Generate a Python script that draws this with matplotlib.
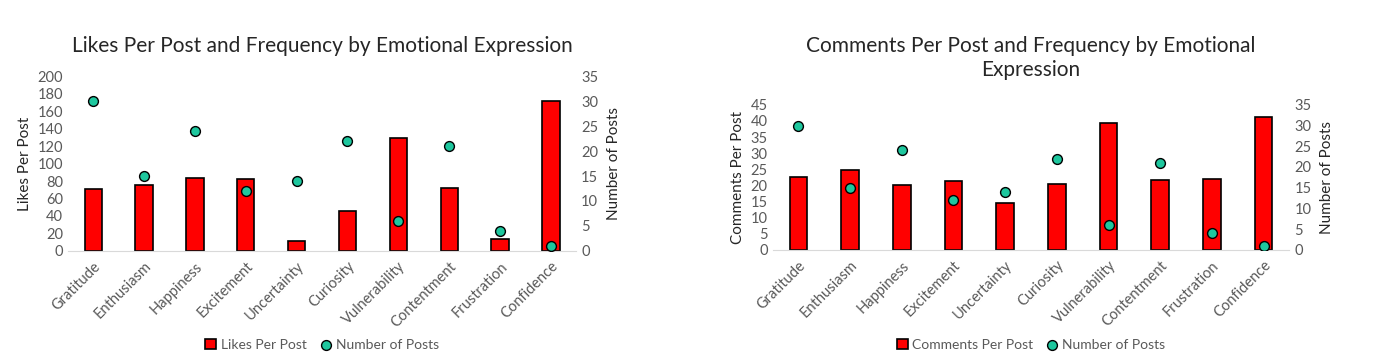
import matplotlib.pyplot as plt
import numpy as np

categories = ["Gratitude", "Enthusiasm", "Happiness", "Excitement", "Uncertainty",
              "Curiosity", "Vulnerability", "Contentment", "Frustration", "Confidence"]
likes_per_post = [71, 76, 83, 82, 11, 46, 129, 72, 14, 172]
comments_per_post = [22.7, 24.8, 20.1, 21.3, 14.5, 20.3, 39.4, 21.8, 22.0, 41.3]
number_of_posts = [30, 15, 24, 12, 14, 22, 6, 21, 4, 1]

plt.rcParams['font.family'] = ['Lato', 'DejaVu Sans']

BAR_COLOR = '#FF0000'
DOT_COLOR = '#1EC79E'
TICK_COLOR = '#595959'
TXT_COLOR = '#262626'

fig = plt.figure(figsize=(13.82, 3.59), dpi=100)


def panel(rect, values, ylabel, ymax, ystep, title, legend_label, title_y):
    ax = fig.add_axes(rect)
    x = np.arange(len(categories))
    ax.bar(x, values, width=0.34, color=BAR_COLOR, edgecolor='black', linewidth=1.2,
           label=legend_label, zorder=2)
    ax.set_xlim(-0.5, len(categories) - 0.5)
    ax.set_ylim(0, ymax)
    ax.set_yticks(np.arange(0, ymax + 0.001, ystep))
    ax.set_xticks(x)
    ax.set_xticklabels(categories, rotation=45, ha='right', rotation_mode='anchor',
                       fontsize=9.5, color=TICK_COLOR)
    ax.tick_params(axis='both', length=0, labelsize=10.5, labelcolor=TICK_COLOR)
    ax.tick_params(axis='x', pad=6)
    for s in ['top', 'right', 'left']:
        ax.spines[s].set_visible(False)
    ax.spines['bottom'].set_color('#D9D9D9')
    ax.set_ylabel(ylabel, fontsize=11, color=TXT_COLOR, labelpad=4)

    ax2 = ax.twinx()
    ax2.scatter(x, number_of_posts, s=50, color=DOT_COLOR, edgecolor='black',
                linewidth=1.0, zorder=3, label='Number of Posts')
    ax2.set_ylim(0, 35)
    ax2.set_yticks(np.arange(0, 36, 5))
    ax2.tick_params(axis='y', length=0, labelsize=10.5, labelcolor=TICK_COLOR)
    for s in ['top', 'right', 'left', 'bottom']:
        ax2.spines[s].set_visible(False)
    ax2.set_ylabel('Number of Posts', fontsize=11, color=TXT_COLOR, labelpad=6)

    cx = rect[0] + rect[2] / 2
    fig.text(cx, title_y, title, ha='center', va='top', fontsize=15, color=TXT_COLOR,
             linespacing=1.25)

    h1, l1 = ax.get_legend_handles_labels()
    h2, l2 = ax2.get_legend_handles_labels()
    fig.legend(h1 + h2, l1 + l2, loc='center', bbox_to_anchor=(cx, 0.04), ncol=2,
               frameon=False, fontsize=10, labelcolor=TICK_COLOR, handlelength=0.8,
               handleheight=0.8, handletextpad=0.3, columnspacing=1.0)
    return ax


panel([0.049, 0.301, 0.368, 0.487], likes_per_post, 'Likes Per Post', 200, 20,
      'Likes Per Post and Frequency by Emotional Expression', 'Likes Per Post', 0.9)
panel([0.559, 0.304, 0.374, 0.404], comments_per_post, 'Comments Per Post', 45, 5,
      'Comments Per Post and Frequency by Emotional\nExpression', 'Comments Per Post', 0.9)

fig.savefig('out.png', dpi=100)
